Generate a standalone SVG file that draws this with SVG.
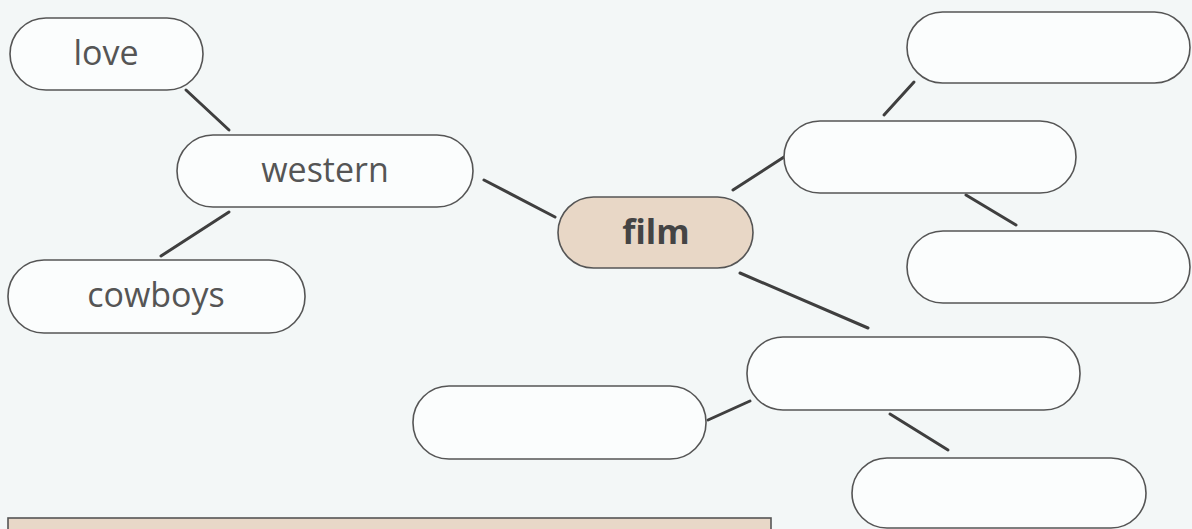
<svg xmlns="http://www.w3.org/2000/svg" width="1192" height="529" viewBox="0 0 1192 529">
<style>
.box{fill:#fbfdfd;stroke:#555;stroke-width:1.6}
.hub{fill:#e8d7c6;stroke:#555;stroke-width:1.6}
.lbl{font-family:"Open Sans","Noto Sans",sans-serif;font-size:34px;fill:#555;text-anchor:middle}
.bold{font-weight:bold;fill:#444}
#connectors line{stroke:#3f3f3f;stroke-width:3;stroke-linecap:round}
</style>
<rect x="0" y="0" width="1192" height="529" fill="#f3f7f7"/>
<g id="connectors">
<line x1="186" y1="90" x2="229" y2="130"/>
<line x1="229" y1="212" x2="161" y2="256"/>
<line x1="484" y1="180" x2="555" y2="217"/>
<line x1="733" y1="190" x2="784" y2="157"/>
<line x1="914" y1="82" x2="884" y2="115"/>
<line x1="966" y1="195" x2="1016" y2="225"/>
<line x1="740" y1="273" x2="868" y2="328"/>
<line x1="708" y1="420" x2="750" y2="401"/>
<line x1="890" y1="414" x2="948" y2="450"/>
</g>
<g id="love"><rect class="box" x="10" y="18" width="193" height="72" rx="36"/><text class="lbl" x="106" y="65">love</text></g>
<g id="western"><rect class="box" x="177" y="135" width="296" height="72" rx="36"/><text class="lbl" x="325" y="182">western</text></g>
<g id="cowboys"><rect class="box" x="8" y="260" width="297" height="73" rx="36"/><text class="lbl" x="156" y="307">cowboys</text></g>
<g id="film"><rect class="hub" x="558" y="197" width="195" height="71" rx="35.5"/><text class="lbl bold" x="656" y="244">film</text></g>
<g id="box-top-right"><rect class="box" x="907" y="12" width="283" height="71" rx="35.5"/></g>
<g id="box-mid-right"><rect class="box" x="784" y="121" width="292" height="72" rx="36"/></g>
<g id="box-right"><rect class="box" x="907" y="231" width="283" height="72" rx="36"/></g>
<g id="box-lower-center"><rect class="box" x="747" y="337" width="333" height="73" rx="36"/></g>
<g id="box-lower-left"><rect class="box" x="413" y="386" width="293" height="73" rx="36"/></g>
<g id="box-bottom-right"><rect class="box" x="852" y="458" width="294" height="70" rx="35"/></g>
<g id="strip"><rect x="8" y="518" width="763" height="14" fill="#e8d8c8" stroke="#555" stroke-width="1.6"/></g>
</svg>
